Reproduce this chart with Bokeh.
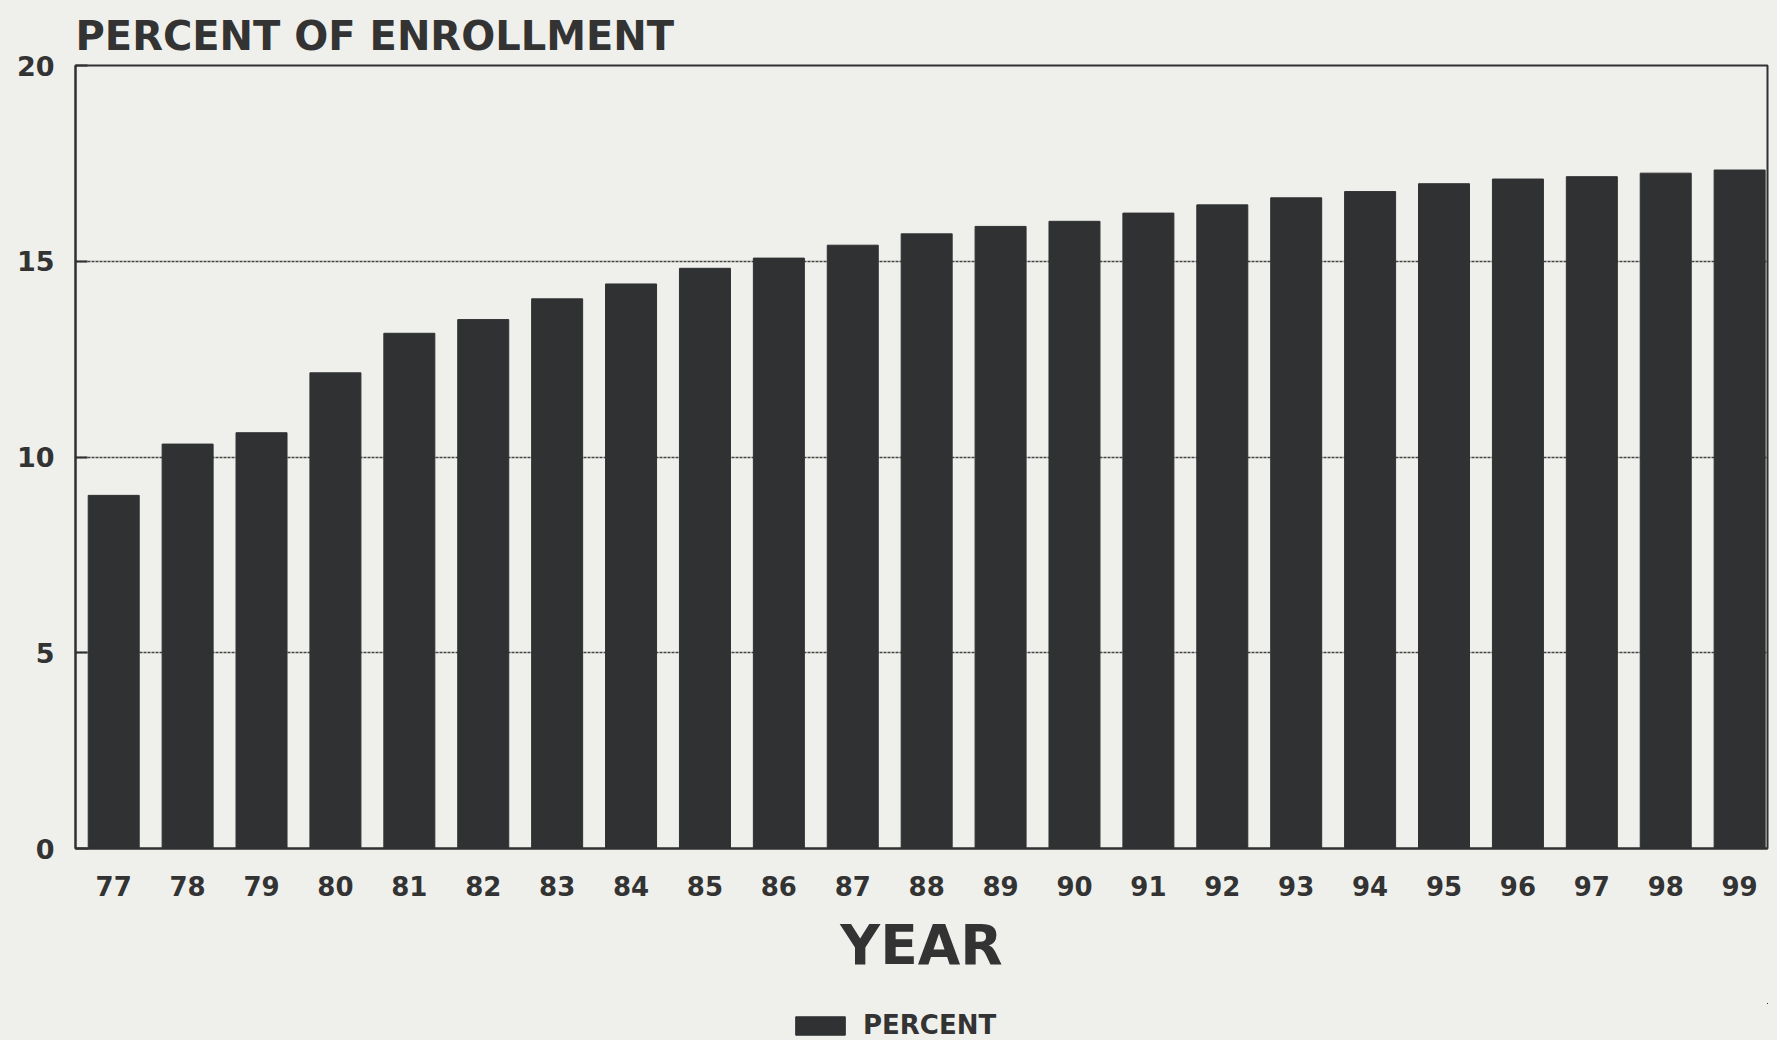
from bokeh.plotting import figure
from bokeh.models import ColumnDataSource, Range1d, FixedTicker, Legend, LegendItem
from bokeh.layouts import column
from bokeh.embed import file_html
from bokeh.resources import INLINE

years = ["77", "78", "79", "80", "81", "82", "83", "84", "85", "86", "87", "88",
         "89", "90", "91", "92", "93", "94", "95", "96", "97", "98", "99"]
percent = [9.02, 10.33, 10.62, 12.15, 13.16, 13.51, 14.04, 14.42, 14.82, 15.08, 15.41, 15.70,
           15.89, 16.02, 16.23, 16.44, 16.62, 16.78, 16.98, 17.10, 17.16, 17.25, 17.33]
y_ticks = [0, 5, 10, 15, 20]
series_name = "PERCENT"

FONT = "DejaVu Sans"
INK = "#2f3132"
BG = "#eff0ec"

idx = list(range(len(years)))
src = ColumnDataSource(data=dict(x=idx, top=percent, year=years))

p = figure(frame_width=1692, frame_height=783, output_backend="svg", toolbar_location=None,
           x_range=Range1d(-0.517, len(years) - 1 + 0.377), y_range=Range1d(0, 20),
           min_border_left=75, min_border_right=10, min_border_top=65, min_border_bottom=155,
           background_fill_color=BG, border_fill_color=BG)

r = p.vbar(x="x", top="top", bottom=0, width=0.69, source=src,
           fill_color=INK, line_color=INK, line_width=1)

# title
p.title.text = "PERCENT OF ENROLLMENT"
p.title.text_font = FONT
p.title.text_font_style = "bold"
p.title.text_font_size = "40px"
p.title.text_color = "#333333"
p.title.align = "left"
p.title.standoff = 14

# frame
p.outline_line_color = INK
p.outline_line_width = 2

# y axis
ya = p.yaxis[0]
ya.ticker = FixedTicker(ticks=y_ticks)
ya.major_tick_in = 12
ya.major_tick_out = 0
ya.minor_tick_in = 0
ya.minor_tick_out = 0
ya.major_label_standoff = 21
ya.major_label_text_font = FONT
ya.major_label_text_font_style = "bold"
ya.major_label_text_font_size = "27px"
ya.major_label_text_color = "#333333"
ya.axis_line_color = INK
ya.axis_line_width = 2
ya.major_tick_line_color = INK
ya.major_tick_line_width = 2

# x axis
xa = p.xaxis[0]
xa.ticker = FixedTicker(ticks=idx)
xa.major_label_overrides = {i: y for i, y in zip(idx, years)}
xa.major_tick_in = 0
xa.major_tick_out = 0
xa.minor_tick_in = 0
xa.minor_tick_out = 0
xa.major_label_standoff = 27
xa.major_label_text_font = FONT
xa.major_label_text_font_style = "bold"
xa.major_label_text_font_size = "26px"
xa.major_label_text_color = "#333333"
xa.axis_line_color = INK
xa.axis_line_width = 2
xa.axis_label = "YEAR"
xa.axis_label_text_font = FONT
xa.axis_label_text_font_style = "bold"
xa.axis_label_text_font_size = "55px"
xa.axis_label_text_color = "#333333"
xa.axis_label_standoff = 14

# grid
p.xgrid.grid_line_color = None
p.ygrid.ticker = FixedTicker(ticks=[5, 10, 15])
p.ygrid.grid_line_color = "#444444"
p.ygrid.grid_line_width = 1.5
p.ygrid.grid_line_dash = "3 1"

# legend strip below the chart (same series, drawn outside this strip's visible ranges)
p2 = figure(width=1777, height=37, output_backend="svg", toolbar_location=None,
            x_range=Range1d(-3, -2), y_range=Range1d(-2, -1),
            x_axis_location=None, y_axis_location=None, min_border=0,
            background_fill_color=BG, border_fill_color=BG)
p2.outline_line_color = None
p2.xgrid.grid_line_color = None
p2.ygrid.grid_line_color = None
r2 = p2.vbar(x="x", top="top", bottom=0, width=0.69, source=src,
             fill_color=INK, line_color=INK)

legend = Legend(items=[LegendItem(label=series_name, renderers=[r2])],
                location=(714, 0), orientation="horizontal",
                glyph_width=62, glyph_height=23, padding=0, margin=0,
                label_standoff=12,
                label_text_font=FONT, label_text_font_style="bold",
                label_text_font_size="26px", label_text_color="#333333",
                background_fill_alpha=0, border_line_color=None)
p2.add_layout(legend, "center")

layout = column(p, p2, spacing=0, styles={"background-color": BG})

open("out.html", "w").write(file_html(layout, INLINE))
